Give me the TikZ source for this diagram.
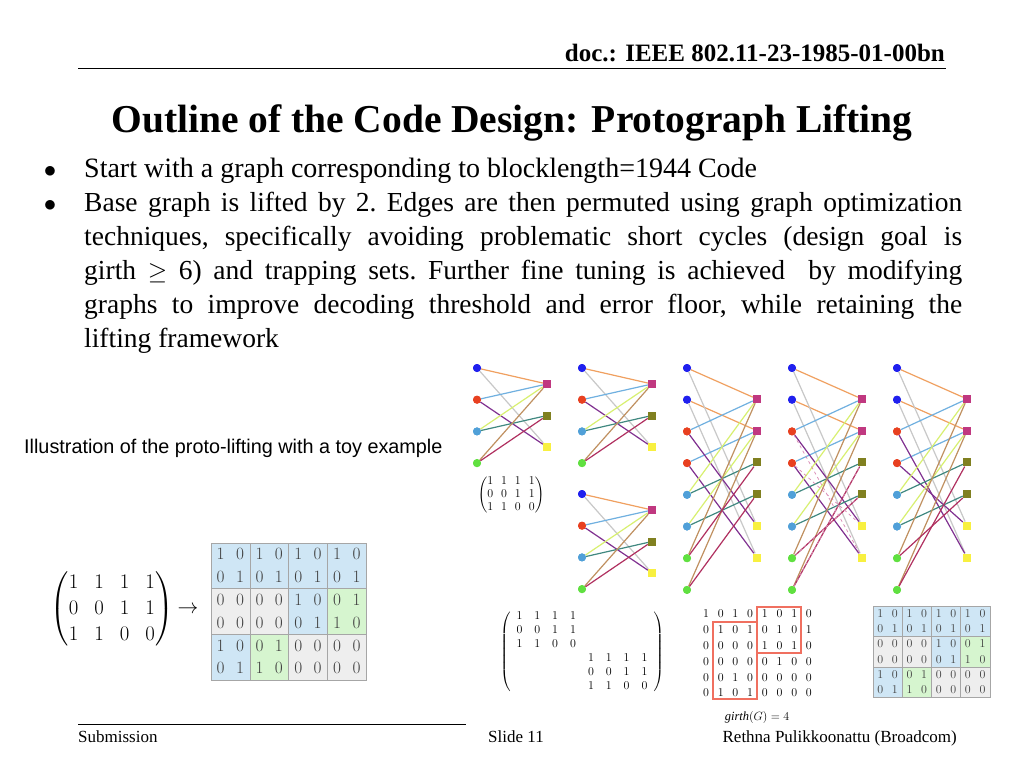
\documentclass[tikz,border=0pt]{standalone}
\usepackage{amsmath}
\usepackage{fontspec}
\setmainfont{Liberation Serif}
\newfontfamily\sansf{Liberation Sans}
\definecolor{nblue}{HTML}{2020EE}\definecolor{nred}{HTML}{E84020}
\definecolor{nlblue}{HTML}{50A0D8}\definecolor{ngreen}{HTML}{60E040}
\definecolor{cmag}{HTML}{C03880}\definecolor{coli}{HTML}{808020}\definecolor{cyel}{HTML}{F8F040}
\definecolor{eorange}{HTML}{F0A060}\definecolor{egray}{HTML}{C8C8C8}\definecolor{eblue}{HTML}{70B0E0}
\definecolor{epurple}{HTML}{803090}\definecolor{elime}{HTML}{D8F070}\definecolor{eteal}{HTML}{408880}
\definecolor{etan}{HTML}{C09060}\definecolor{ecrim}{HTML}{B03060}
\definecolor{gblue}{HTML}{CFE6F5}\definecolor{ggray}{HTML}{EEEEEE}\definecolor{ggreen}{HTML}{D6F5CF}
\definecolor{rb}{HTML}{F07060}
\tikzset{vn/.style={circle,fill=#1,inner sep=0,minimum size=8pt},
 cn/.style={rectangle,fill=#1,inner sep=0,minimum size=8pt},
 ed/.style={line width=1.2pt,draw=#1},
 rbox/.style={draw=rb,line width=1.2pt}}
\begin{document}
\begin{tikzpicture}[x=1pt,y=-1pt]
\useasboundingbox (0,0) rectangle (1024,768);
\fill[white] (0,0) rectangle (1024,768);
% header
\node[anchor=base east,font=\bfseries\fontsize{25}{28}\selectfont,inner sep=0] (hdr) at (945,62) {doc.: IEEE 802.11-23-1985-01-00bn};
\draw[line width=0.8pt] (78,68) -- (946,68);
\node[anchor=base,font=\bfseries\fontsize{39.5}{44}\selectfont,inner sep=0] (title) at (512,132) {Outline of the Code Design: Protograph Lifting};
% bullets
\node[anchor=base,font=\fontsize{26}{34}\selectfont] (b1) at (50,177) {$\bullet$};
\node[anchor=base west,font=\fontsize{28}{34}\selectfont,inner sep=0] (t1) at (84,177) {Start with a graph corresponding to blocklength=1944 Code};
\node[anchor=base,font=\fontsize{26}{34}\selectfont] (b2) at (50,211) {$\bullet$};
\node[anchor=north west,font=\fontsize{27.5}{34}\selectfont,inner sep=0,text width=878pt,align=justify] (t2) at (84,192) {\frenchspacing\hyphenpenalty=10000 Base graph is lifted by 2. Edges are then permuted using graph optimization\linebreak techniques, specifically avoiding problematic short cycles (design goal is\linebreak girth $\geq$ 6) and trapping sets. Further fine tuning is achieved\ \ by modifying\linebreak graphs to improve decoding threshold and error floor, while retaining the\linebreak lifting framework};
\node[anchor=base west,font=\sansf\fontsize{19.8}{22}\selectfont,inner sep=0] (ill) at (24,453) {Illustration of the proto-lifting with a toy example};
% footer
\draw[line width=0.8pt] (78,724) -- (466,724);
\node[anchor=base west,font=\fontsize{17}{20}\selectfont,inner sep=0] (sub) at (78,742) {Submission};
\node[anchor=base west,font=\fontsize{17}{20}\selectfont,inner sep=0] (sl) at (488,742) {Slide 11};
\node[anchor=base east,font=\fontsize{17}{20}\selectfont,inner sep=0] (au) at (957,742) {Rethna Pulikkoonattu (Broadcom)};
% base graphs
\foreach \p/\xv/\yo in {a/477/368, b/582/368, c/582/494}{
 \foreach \i/\cl in {1/nblue,2/nred,3/nlblue,4/ngreen}
   \node[vn=\cl] (\p v\i) at (\xv,\yo+31.7*\i-31.7) {};
 \foreach \j/\cl in {1/cmag,2/coli,3/cyel}
   \node[cn=\cl] (\p c\j) at (\xv+70,\yo+16+31.5*\j-31.5) {};
 \foreach \v/\c/\cl in {1/1/eorange,1/3/egray,2/1/eblue,2/3/epurple,3/1/elime,3/2/eteal,4/1/etan,4/2/ecrim}
   \draw[ed=\cl] (\p v\v) -- (\p c\c);
 \foreach \i/\cl in {1/nblue,2/nred,3/nlblue,4/ngreen}
   \node[vn=\cl] at (\p v\i) {};
 \foreach \j/\cl in {1/cmag,2/coli,3/cyel}
   \node[cn=\cl] at (\p c\j) {};
}
% lifted graphs
\foreach \p/\xv/\sa/\sb in {d/687/0/0, e/792/0/1, f/897/1/1}{
 \foreach \i/\cl in {1/nblue,2/nblue,3/nred,4/nred,5/nlblue,6/nlblue,7/ngreen,8/ngreen}
   \node[vn=\cl] (\p v\i) at (\xv,368+31.7*\i-31.7) {};
 \foreach \j/\cl in {1/cmag,2/cmag,3/coli,4/coli,5/cyel,6/cyel}
   \node[cn=\cl] (\p c\j) at (\xv+70,399+31.7*\j-31.7) {};
 \foreach \v/\c/\cl/\s in {1/1/eorange/0,1/3/egray/0,2/1/eblue/0,2/3/epurple/1,3/1/elime/0,3/2/eteal/0,4/1/etan/0,4/2/ecrim/2}{
  \foreach \k in {0,1}{
   \pgfmathtruncatemacro{\sw}{(\s==1)*\sa+(\s==2)*\sb}
   \pgfmathtruncatemacro{\vi}{2*\v-1+\k}
   \pgfmathtruncatemacro{\ci}{2*\c-1+mod(\k+\sw,2)}
   \draw[ed=\cl] (\p v\vi) -- (\p c\ci);
  }}
 \foreach \i/\cl in {1/nblue,2/nblue,3/nred,4/nred,5/nlblue,6/nlblue,7/ngreen,8/ngreen}
   \node[vn=\cl] at (\p v\i) {};
 \foreach \j/\cl in {1/cmag,2/cmag,3/coli,4/coli,5/cyel,6/cyel}
   \node[cn=\cl] at (\p c\j) {};
}
\draw[dashed,draw=cmag!60,line width=0.7pt] (ev3) -- (ec6) (ev4) -- (ec5) (ev7) -- (ec4) (ev8) -- (ec3);
% small matrix
\node[font=\fontsize{11.5}{13}\selectfont] (m0) at (511,495) {$\setlength\arraycolsep{4pt}\begin{pmatrix}1&1&1&1\\0&0&1&1\\1&1&0&0\end{pmatrix}$};
% big left matrix
\node[font=\fontsize{22}{26}\selectfont] (m1) at (112,609) {$\setlength\arraycolsep{8pt}\begin{pmatrix}1&1&1&1\\0&0&1&1\\1&1&0&0\end{pmatrix}$};
\node[font=\fontsize{20}{24}\selectfont] (arr) at (188,610) {$\rightarrow$};
% colored grids
\foreach \g/\gx/\gy/\w/\h/\fs in {L/211/543/19.4/22.8/17, R/873/606/14.6/15.2/12.5}{
 \foreach \bc/\br/\cl in {0/0/gblue,1/0/gblue,2/0/gblue,3/0/gblue,0/1/ggray,1/1/ggray,2/1/gblue,3/1/ggreen,0/2/gblue,1/2/ggreen,2/2/ggray,3/2/ggray}{
   \fill[\cl] (\gx+2*\w*\bc,\gy+2*\h*\br) rectangle ++(2*\w,2*\h);
   \draw[gray!70,line width=0.6pt] (\gx+2*\w*\bc,\gy+2*\h*\br) rectangle ++(2*\w,2*\h);
 }
 \foreach \r/\row in {1/{1,0,1,0,1,0,1,0},2/{0,1,0,1,0,1,0,1},3/{0,0,0,0,1,0,0,1},4/{0,0,0,0,0,1,1,0},5/{1,0,0,1,0,0,0,0},6/{0,1,1,0,0,0,0,0}}{
  \foreach \b [count=\cc] in \row
   \node[font=\fontsize{\fs}{\fs}\selectfont,text=black!75,inner sep=0] (\g n\r\cc) at (\gx+\w*\cc-\w/2,\gy+\h*\r-\h/2) {$\b$};
 }
}
% block diagonal matrix
\node[font=\fontsize{12.5}{14}\selectfont] (m2) at (582,652) {$\setlength\arraycolsep{6pt}\left(\begin{array}{*{8}{c}}1&1&1&1&&&&\\0&0&1&1&&&&\\1&1&0&0&&&&\\&&&&1&1&1&1\\&&&&0&0&1&1\\&&&&1&1&0&0\end{array}\right)$};
% red boxed matrix
\foreach \r/\row in {1/{1,0,1,0,1,0,1,0},2/{0,1,0,1,0,1,0,1},3/{0,0,0,0,1,0,1,0},4/{0,0,0,0,0,1,0,0},5/{0,0,1,0,0,0,0,0},6/{0,1,0,1,0,0,0,0}}{
 \foreach \b [count=\cc] in \row
  \node[font=\fontsize{12.5}{12.5}\selectfont,inner sep=0] (M\r\cc) at (706+14.7*\cc-14.7,614+15.8*\r-15.8) {$\b$};
}
\draw[rbox] (713,622) rectangle (757,699);
\draw[rbox] (757,607) rectangle (801,653);
\node[font=\fontsize{12.5}{14}\selectfont] (gir) at (757,717) {$\mathit{girth}(G)=4$};
\end{tikzpicture}
\end{document}
